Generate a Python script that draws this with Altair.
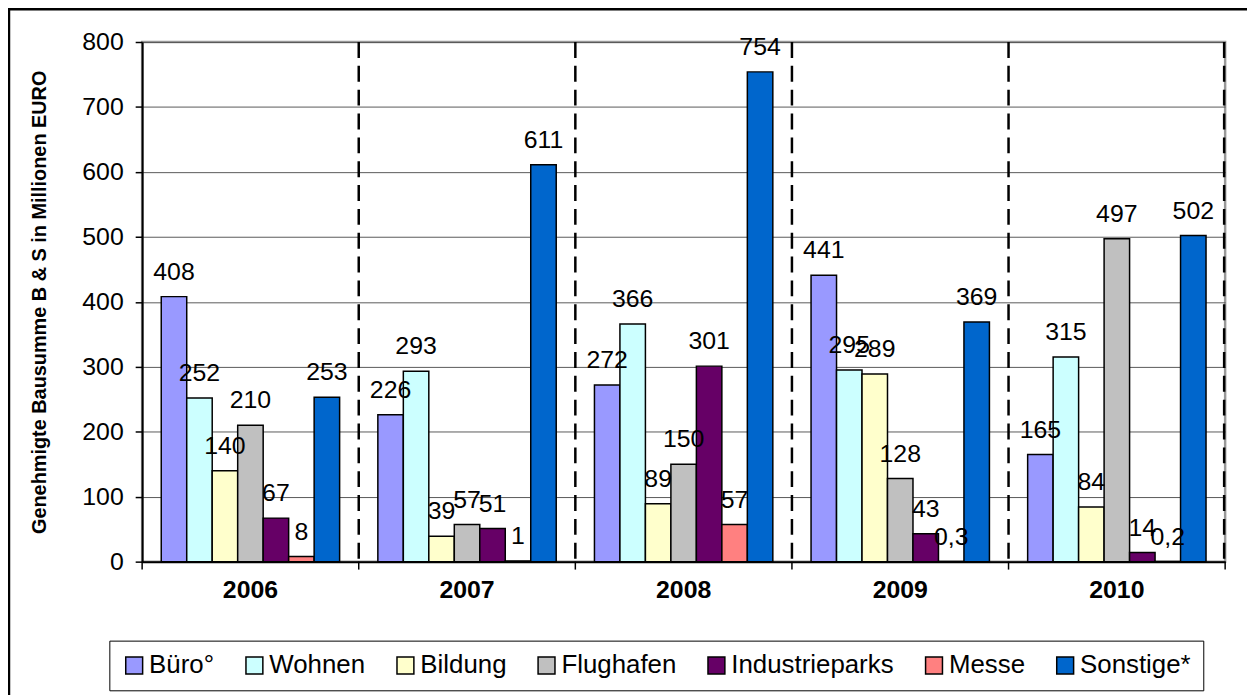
import altair as alt
import pandas as pd

years = ["2006", "2007", "2008", "2009", "2010"]
categories = ["Büro°", "Wohnen", "Bildung", "Flughafen", "Industrieparks", "Messe", "Sonstige*"]
buero = [408, 226, 272, 441, 165]
wohnen = [252, 293, 366, 295, 315]
bildung = [140, 39, 89, 289, 84]
flughafen = [210, 57, 150, 128, 497]
industrieparks = [67, 51, 301, 43, 14]
messe = [8, 1, 57, 0.3, 0.2]
sonstige = [253, 611, 754, 369, 502]
colors = ["#9999FF", "#CCFFFF", "#FFFFCC", "#C0C0C0", "#660066", "#FF8080", "#0066CC"]
y_ticks = [0, 100, 200, 300, 400, 500, 600, 700, 800]
y_title = "Genehmigte Bausumme B & S in  Millionen EURO"

series = [buero, wohnen, bildung, flughafen, industrieparks, messe, sonstige]
rows = []
for i, yr in enumerate(years):
    for cat, vals in zip(categories, series):
        v = vals[i]
        rows.append({"Jahr": yr, "Kategorie": cat, "Wert": v,
                     "Label": f"{v:g}".replace(".", ",")})
df = pd.DataFrame(rows)

W, H = 1090, 523
FONT = "Liberation Sans"

x_enc = alt.X("Jahr:N", sort=years,
              scale=alt.Scale(paddingInner=0, paddingOuter=0),
              axis=alt.Axis(title=None, labelAngle=0, labelFontSize=25, labelFontWeight="bold",
                            labelColor="black", ticks=False, tickSize=0, labelPadding=28,
                            bandPosition=0.5, labelAlign="center",
                            domainColor="black", domainWidth=2, grid=False))
xoff_enc = alt.XOffset("Kategorie:N", sort=categories,
                       scale=alt.Scale(domain=categories, paddingInner=0, paddingOuter=0.75))
y_enc = alt.Y("Wert:Q", scale=alt.Scale(domain=[0, 800], nice=False),
              axis=alt.Axis(values=y_ticks, title=y_title, titleFontSize=20, titleFontWeight="bold",
                            titleColor="black", titlePadding=33, labelFontSize=25, labelColor="black",
                            labelPadding=12, tickSize=7, tickColor="black", tickWidth=1.5,
                            domainColor="black", domainWidth=2, grid=True, gridColor="#5a5a5a",
                            gridWidth=1))

bars = alt.Chart(df).mark_bar(stroke="black", strokeWidth=1.5).encode(
    x=x_enc, xOffset=xoff_enc, y=y_enc,
    color=alt.Color("Kategorie:N", sort=categories,
                    scale=alt.Scale(domain=categories, range=colors),
                    legend=alt.Legend(title=None, orient="none", legendX=-33, legendY=602.5,
                                      direction="horizontal", columns=7, strokeColor="black",
                                      padding=12, symbolType="square", symbolSize=289,
                                      symbolStrokeColor="black", symbolStrokeWidth=1.5,
                                      labelFontSize=26, labelColor="black", labelOffset=2,
                                      columnPadding=27, labelLimit=400)),
)

labels = alt.Chart(df).mark_text(fontSize=25, baseline="alphabetic", dy=-17, color="black").encode(
    x=alt.X("Jahr:N", sort=years), xOffset=alt.XOffset("Kategorie:N", sort=categories),
    y=alt.Y("Wert:Q"), text="Label:N",
)

bounds = pd.DataFrame({"Jahr": years})
dashed = alt.Chart(bounds).transform_filter(
    alt.datum.Jahr != years[0]
).mark_rule(color="black", strokeWidth=2.5, strokeDash=[16, 8]).encode(
    x=alt.X("Jahr:N", sort=years, bandPosition=0), y=alt.value(0), y2=alt.value(H),
)
dashed_right = alt.Chart(bounds.head(1)).mark_rule(color="black", strokeWidth=2.5,
                                                  strokeDash=[16, 8]).encode(
    x=alt.value(W - 1), y=alt.value(0), y2=alt.value(H),
)
ticks = alt.Chart(bounds).mark_rule(color="black", strokeWidth=1.5).encode(
    x=alt.X("Jahr:N", sort=years, bandPosition=0), y=alt.value(H), y2=alt.value(H + 8),
)
tick_right = alt.Chart(bounds.head(1)).mark_rule(color="black", strokeWidth=1.5).encode(
    x=alt.value(W), y=alt.value(H), y2=alt.value(H + 8),
)
frame = alt.Chart(bounds.head(1)).mark_rect(fillOpacity=0, stroke="black", strokeWidth=2.5).encode(
    x=alt.value(-134), x2=alt.value(W + 300), y=alt.value(-33), y2=alt.value(H + 400),
)

chart = alt.layer(frame, dashed, dashed_right, bars, labels, ticks, tick_right).properties(
    width=W, height=H,
    autosize=alt.AutoSizeParams(type="none"),
    padding={"left": 135, "top": 32, "right": 22, "bottom": 132},
).configure(font=FONT).configure_view(stroke="#999999", strokeWidth=2.5)

chart.save("out.html", embed_options={"renderer": "svg", "actions": False})
